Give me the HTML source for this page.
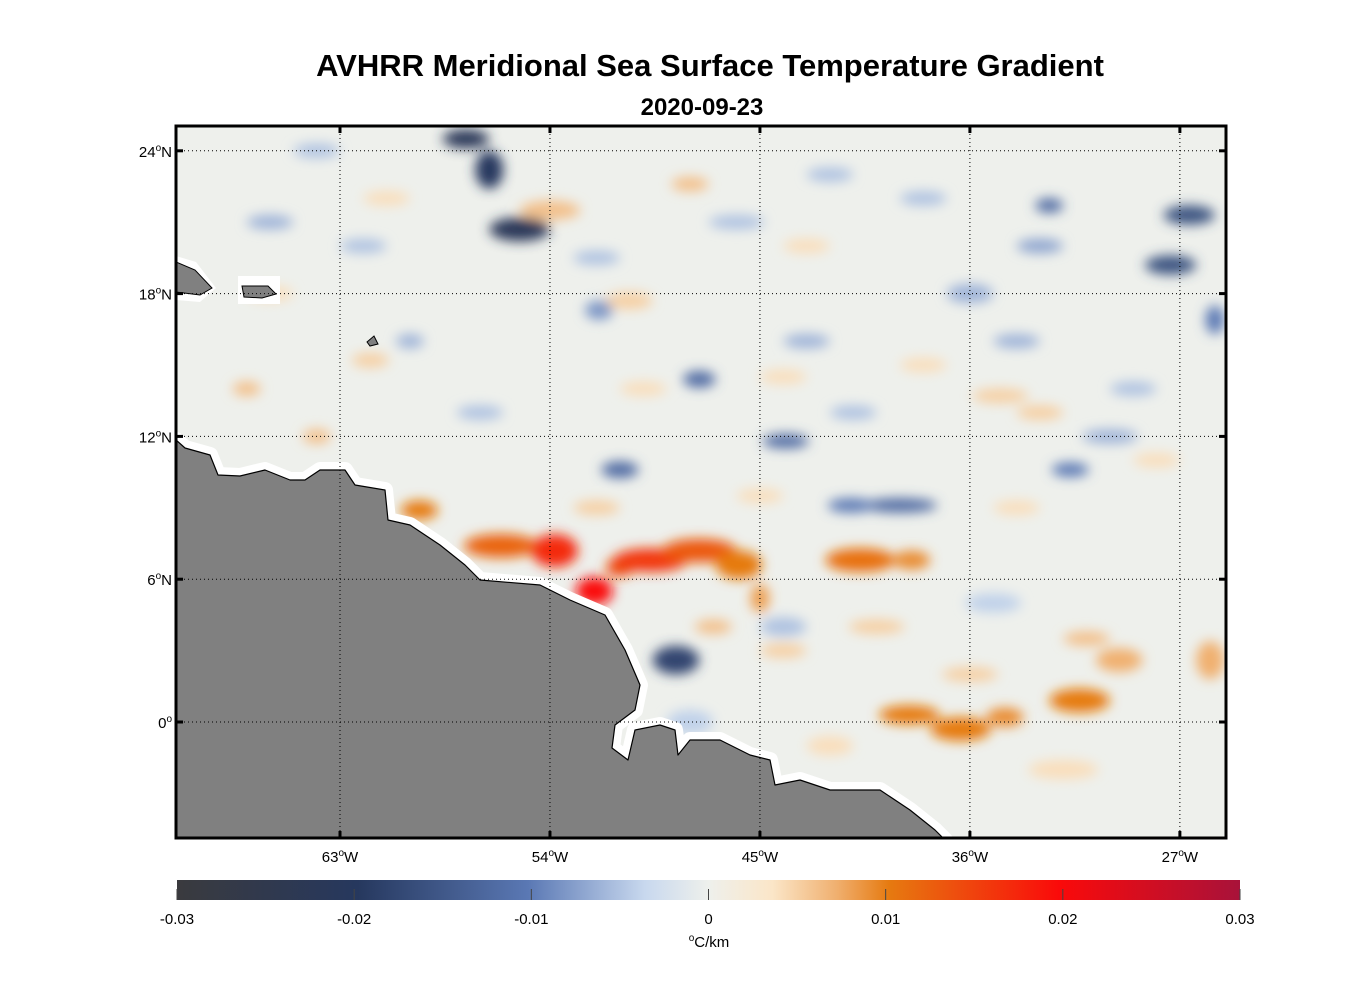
<!DOCTYPE html>
<html><head><meta charset="utf-8"><style>
body{margin:0;background:#fff;font-family:"Liberation Sans",sans-serif}
</style></head><body>
<svg id="c" width="1356" height="1000" xmlns="http://www.w3.org/2000/svg" font-family="Liberation Sans, sans-serif">
<defs>
<linearGradient id="cm" x1="0" x2="1" y1="0" y2="0">
<stop offset="0" stop-color="#3a3a3e"/><stop offset="0.17" stop-color="#26385e"/><stop offset="0.33" stop-color="#5a78b4"/>
<stop offset="0.44" stop-color="#c8d8ee"/><stop offset="0.5" stop-color="#eef0ec"/><stop offset="0.56" stop-color="#fbe6c8"/>
<stop offset="0.62" stop-color="#f0b070"/><stop offset="0.67" stop-color="#e67a10"/><stop offset="0.83" stop-color="#fa0a0a"/><stop offset="1" stop-color="#a8123a"/>
</linearGradient>
<clipPath id="fr"><rect x="176" y="126" width="1050" height="712"/></clipPath>
<filter id="bl" x="-50%" y="-50%" width="200%" height="200%"><feGaussianBlur stdDeviation="6"/></filter>
</defs>
<text x="710" y="76" text-anchor="middle" font-size="31" font-weight="bold">AVHRR Meridional Sea Surface Temperature Gradient</text>
<text x="702" y="115" text-anchor="middle" font-size="24" font-weight="bold">2020-09-23</text>
<g clip-path="url(#fr)">
<rect x="176" y="126" width="1050" height="712" fill="#eef0ec"/>
<g id="blobs" filter="url(#bl)"></g>
<polygon fill="#fff" stroke="#fff" stroke-width="16" stroke-linejoin="round"
points="176,440 185,448 210,455 218,475 240,476 265,470 290,480 305,480 320,470 345,470 355,485 385,490 388,520 410,525 440,545 465,565 480,580 540,585 570,600 605,615 625,650 640,685 635,710 615,725 612,748 628,760 635,730 660,725 675,730 678,755 690,740 720,740 750,755 770,760 775,785 800,780 830,790 880,790 910,810 935,830 945,840 176,840"/>
<polygon fill="#808080" stroke="#000" stroke-width="1.2" stroke-linejoin="round"
points="176,440 185,448 210,455 218,475 240,476 265,470 290,480 305,480 320,470 345,470 355,485 385,490 388,520 410,525 440,545 465,565 480,580 540,585 570,600 605,615 625,650 640,685 635,710 615,725 612,748 628,760 635,730 660,725 675,730 678,755 690,740 720,740 750,755 770,760 775,785 800,780 830,790 880,790 910,810 935,830 945,840 176,840"/>
<polygon fill="#fff" points="176,256 196,262 216,288 200,302 176,300"/>
<polygon fill="#808080" stroke="#000" points="176,262 195,270 212,288 200,295 176,292"/>
<rect x="238" y="276" width="42" height="28" fill="#fff"/>
<polygon fill="#808080" stroke="#000" points="242,286 268,286 276,294 262,298 244,297"/>
<polygon fill="#808080" stroke="#000" points="367,342 374,336 378,344 370,346"/>
<g id="grid"></g>
</g>
<rect x="176" y="126" width="1050" height="712" fill="none" stroke="#000" stroke-width="3"/>
<g id="axes"></g>
<rect x="177" y="880" width="1063" height="20" fill="url(#cm)"/>
<g id="cb"></g>
<text x="709" y="947" text-anchor="middle" font-size="15"><tspan font-size="10" dy="-6">o</tspan><tspan dy="6">C/km</tspan></text>
</svg>
<script>
const blobLon=[-66,-62,-60,-57,-52,-46,-43,-41,-36,-34,-33,-30,-29,-44,-48,-35,-42,-38,-64,
-67,-64,-61,-50,-44,-38,-33,-28,-40,-44,-36,-31,-32,-42,-47,-52,-45,-34,-43,-66,
-56.1,-53.8,-52.1,-51,-49.7,-47.6,-45.9,-45,-40.7,-38.5,-59.6,-38.6,-36.4,-34.5,-31.3,-29.6,-25.7,
-57.6,-56.6,-55.3,-48.6,-43.9,-47.6,-51,-39,-26.6,-27.4,-32.6,-31.7,-41.1,-51.9,-25.5,-54,-48,-50.6,-34.7,-61.7];
const blobLat=[21,20,16,13,19.5,21,16,13,18,16,20,12,14,4,0,5,23,22,24,
14,12,22,14,14.5,15,13,11,4,3,2,3.5,-2,-1,4,9,9.5,9,20,18,
7.4,7.2,5.5,6.5,6.8,7.2,6.6,5.2,6.8,6.8,8.9,0.3,-0.3,0.2,0.9,2.6,2.6,
24.5,23.2,20.7,2.6,11.8,14.4,10.6,9.1,21.3,19.2,21.7,10.6,9.1,17.3,16.9,21.5,22.6,17.7,13.7,15.2];
const blobVal=[-0.006,-0.005,-0.006,-0.005,-0.005,-0.005,-0.006,-0.005,-0.006,-0.006,-0.007,-0.006,-0.005,-0.005,-0.004,-0.004,-0.005,-0.005,-0.005,
0.006,0.006,0.004,0.004,0.004,0.004,0.005,0.004,0.005,0.005,0.005,0.006,0.004,0.004,0.006,0.005,0.004,0.004,0.004,0.004,
0.012,0.017,0.02,0.014,0.016,0.013,0.01,0.008,0.011,0.009,0.01,0.01,0.01,0.009,0.01,0.007,0.007,
-0.022,-0.02,-0.022,-0.018,-0.012,-0.012,-0.012,-0.012,-0.016,-0.016,-0.012,-0.01,-0.01,-0.008,-0.01,0.006,0.006,0.005,0.005,0.005];
const blobRx=[1,1,0.6,1,1,1.2,1,1,1,1,1,1.2,1,1,1,1.2,1,1,1,
0.6,0.6,1,1,1,1,1,1,1.2,1,1.2,1,1.5,1,0.8,1,1,1,1,1,
1.6,1.0,0.8,0.6,1.6,1.6,1.0,0.4,1.5,0.8,0.8,1.3,1.3,0.8,1.3,1.0,0.6,
1.0,0.6,1.3,1.0,1.0,0.7,0.8,1.6,1.1,1.1,0.6,0.8,1.0,0.6,0.4,1.3,0.8,1.0,1.2,0.8];
const blobRy=[0.3,0.3,0.3,0.3,0.3,0.3,0.3,0.3,0.4,0.3,0.3,0.3,0.3,0.4,0.5,0.4,0.3,0.3,0.3,
0.3,0.3,0.3,0.3,0.3,0.3,0.3,0.3,0.3,0.3,0.3,0.3,0.4,0.4,0.3,0.3,0.3,0.3,0.3,0.3,
0.5,0.7,0.6,0.4,0.5,0.5,0.6,0.6,0.5,0.4,0.4,0.4,0.5,0.4,0.5,0.5,0.8,
0.4,0.8,0.5,0.6,0.3,0.35,0.35,0.3,0.4,0.4,0.3,0.3,0.3,0.4,0.6,0.4,0.3,0.35,0.3,0.3];
const latTicks=[24,18,12,6,0];
const latLabels=["24","18","12","6","0"];
const lonTicks=[-63,-54,-45,-36,-27];
const lonLabels=["63","54","45","36","27"];
const cbTicks=[-0.03,-0.02,-0.01,0,0.01,0.02,0.03];
const cbLabels=["-0.03","-0.02","-0.01","0","0.01","0.02","0.03"];
const NS="http://www.w3.org/2000/svg";
const X=lon=>340+(lon+63)*23.33, Y=lat=>722-lat*23.8;
const CB=v=>177+(v+0.03)/0.06*1063;
const stops=[[-0.03,[58,58,62]],[-0.02,[38,56,94]],[-0.01,[90,120,180]],[-0.0035,[200,216,238]],[0,[238,240,236]],[0.0035,[251,230,200]],[0.007,[240,176,112]],[0.01,[230,122,16]],[0.02,[250,10,10]],[0.03,[168,18,58]]];
function col(v){for(let i=1;i<stops.length;i++){if(v<=stops[i][0]){const a=stops[i-1],b=stops[i],t=(v-a[0])/(b[0]-a[0]);return 'rgb('+a[1].map((c,k)=>Math.round(c+(b[1][k]-c)*t)).join(',')+')';}}return 'rgb(168,18,58)';}
function mk(t,a,p){const e=document.createElementNS(NS,t);for(const k in a)e.setAttribute(k,a[k]);p.appendChild(e);return e;}
const bg=document.getElementById('blobs');
blobLon.forEach((lo,i)=>{const e=mk('ellipse',{cx:X(lo),cy:Y(blobLat[i]),rx:blobRx[i]*23.33,ry:blobRy[i]*23.8,fill:col(blobVal[i])},bg);

});
const gr=document.getElementById('grid'),ax=document.getElementById('axes'),cb=document.getElementById('cb');
latTicks.forEach((la,i)=>{const y=Y(la);
const l=mk('line',{x1:176,x2:1226,y1:y,y2:y,stroke:'#000','stroke-width':1,'stroke-dasharray':'1,3'},gr);


mk('line',{x1:176,x2:183,y1:y,y2:y,stroke:'#000','stroke-width':3},ax);
mk('line',{x1:1219,x2:1226,y1:y,y2:y,stroke:'#000','stroke-width':3},ax);
const t=mk('text',{x:172,y:y+6,'text-anchor':'end','font-size':15},ax);


t.innerHTML=latLabels[i]+'<tspan font-size="10" dy="-6">o</tspan><tspan dy="6">'+(la===0?'':'N')+'</tspan>';});
lonTicks.forEach((lo,i)=>{const x=X(lo);
const l=mk('line',{x1:x,x2:x,y1:126,y2:838,stroke:'#000','stroke-width':1,'stroke-dasharray':'1,3'},gr);


mk('line',{x1:x,x2:x,y1:126,y2:133,stroke:'#000','stroke-width':3},ax);
mk('line',{x1:x,x2:x,y1:831,y2:838,stroke:'#000','stroke-width':3},ax);
const t=mk('text',{x:x,y:862,'text-anchor':'middle','font-size':15},ax);


t.innerHTML=lonLabels[i]+'<tspan font-size="10" dy="-6">o</tspan><tspan dy="6">W</tspan>';});
cbTicks.forEach((v,i)=>{const x=CB(v);
mk('line',{x1:x,x2:x,y1:889,y2:900,stroke:'#444','stroke-width':1},cb);
const t=mk('text',{x:x,y:924,'text-anchor':'middle','font-size':15},cb);


t.textContent=cbLabels[i];});
</script>
</body></html>
